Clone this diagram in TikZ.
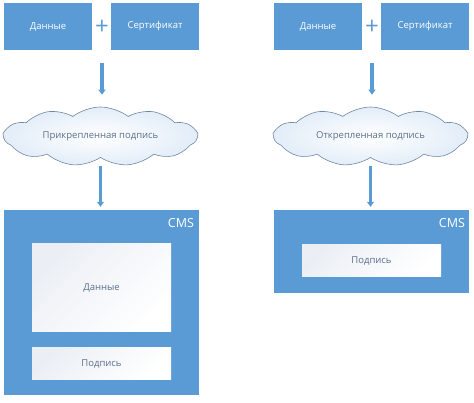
\documentclass[tikz,border=0pt]{standalone}
\usepackage{fontspec}
\setmainfont{Open Sans}
\usepackage{tikz}
\usetikzlibrary{positioning, shapes.symbols, arrows.meta}

\definecolor{boxblue}{HTML}{5B9BD5}
\definecolor{labgray}{HTML}{5B6F8C}
\definecolor{cloudline}{HTML}{6F86A3}
\definecolor{cloudfill}{HTML}{E2EDF8}
\definecolor{innershade}{HTML}{EBEFF5}

\tikzset{
    bluebox/.style={fill=boxblue, text=white, minimum width=88pt, minimum height=47pt, inner sep=0pt, font=\fontsize{9.5}{11}\selectfont},
    plussign/.style={text=boxblue, inner sep=0pt, font=\fontsize{24}{24}\selectfont},
    sigcloud/.style={cloud, cloud puffs=11, cloud puff arc=75, cloud ignores aspect, draw=cloudline, line width=0.6pt, inner color=white, outer color=cloudfill, text=labgray, minimum width=193pt, minimum height=59pt, inner sep=0pt, font=\fontsize{9.5}{11}\selectfont},
    cmsbox/.style={fill=boxblue, minimum width=195pt, inner sep=0pt},
    cmslabel/.style={text=white, inner sep=0pt, font=\fontsize{12.5}{14}\selectfont},
    whitebox/.style={top color=innershade, bottom color=white, shading angle=45, text=labgray, minimum width=139pt, inner sep=0pt, font=\fontsize{9.5}{11}\selectfont},
    flow/.style={draw=boxblue, line width=3.5pt, -{Triangle[width=7pt,length=5pt]}}
}

\begin{document}
\begin{tikzpicture}[x=1pt, y=-1pt]
    \useasboundingbox (0,0) rectangle (474,403);
    \node[bluebox] (dataL) at (48,26.5) {Данные};
    \node[bluebox] (certL) at (155,26.5) {Сертификат};
    \node[plussign] (plusL) at (102,27) {+};
    \node[sigcloud] (cloudL) at (100.5,136.5) {Прикрепленная подпись};
    \node[cmsbox, minimum height=185pt] (cmsL) at (101.5,302.5) {};
    \node[cmslabel, anchor=north east] (cmsTextL) at ([shift={(-5,8)}]cmsL.north east) {CMS};
    \node[whitebox, minimum height=88pt] (innerDataL) at (101.5,288) {Данные};
    \node[whitebox, minimum height=31pt] (innerSigL) at (101.5,363.5) {Подпись};
    \draw[flow, shorten <=13pt, shorten >=12pt] (plusL |- dataL.south) -- (plusL |- cloudL.north);
    \draw[flow, shorten <=8pt, shorten >=3pt] (cloudL.south) -- (cloudL.south |- cmsL.north);
    \node[bluebox] (dataR) at (318,26.5) {Данные};
    \node[bluebox] (certR) at (425,26.5) {Сертификат};
    \node[plussign] (plusR) at (372,27) {+};
    \node[sigcloud] (cloudR) at (370.5,136.5) {Открепленная подпись};
    \node[cmsbox, minimum height=83pt] (cmsR) at (371.5,251.5) {};
    \node[cmslabel, anchor=north east] (cmsTextR) at ([shift={(-4,8)}]cmsR.north east) {CMS};
    \node[whitebox, minimum height=32pt] (innerSigR) at (371.5,261) {Подпись};
    \draw[flow, shorten <=13pt, shorten >=12pt] (plusR |- dataR.south) -- (plusR |- cloudR.north);
    \draw[flow, shorten <=8pt, shorten >=3pt] (cloudR.south) -- (cloudR.south |- cmsR.north);
\end{tikzpicture}
\end{document}
